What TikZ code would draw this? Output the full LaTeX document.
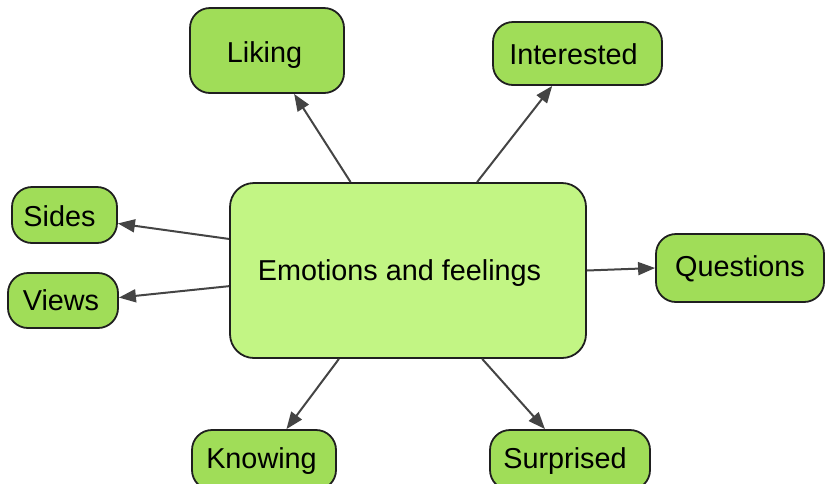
\documentclass[tikz,border=0pt]{standalone}
\usepackage{fontspec}
\setmainfont{Liberation Sans}
\usetikzlibrary{arrows.meta}
\definecolor{leaf}{RGB}{160,221,88}
\definecolor{hub}{RGB}{194,245,132}
\definecolor{edgec}{RGB}{68,68,68}
\begin{document}
\begin{tikzpicture}[x=1pt,y=-1pt,
  box/.style={draw=black!88, line width=1.8pt, fill=leaf, rounded corners=20pt,
    inner sep=0pt},
  lbl/.style={inner sep=0pt, font=\fontsize{28.8}{34}\selectfont, text=black},
  link/.style={draw=edgec, line width=2pt, -{Triangle[length=17pt,width=13pt]}}]
\useasboundingbox (0,0) rectangle (826,483);
\node[box, fill=hub, minimum width=356pt, minimum height=175pt, rounded corners=24pt,
  label={[lbl,xshift=-8.5pt,yshift=-3pt]center:Emotions and feelings}] (c) at (408,270.5) {};
\node[box, minimum width=154pt, minimum height=85pt,
  label={[lbl,xshift=-2.5pt,yshift=-5pt]center:Liking}] (liking) at (267,50.5) {};
\node[box, minimum width=169pt, minimum height=63pt,
  label={[lbl,xshift=-4pt,yshift=-1pt]center:Interested}] (interested) at (577.5,53.5) {};
\node[box, minimum width=105pt, minimum height=56pt,
  label={[lbl,xshift=-5pt,yshift=-1pt]center:Sides}] (sides) at (64.5,215) {};
\node[box, minimum width=110pt, minimum height=55pt,
  label={[lbl,xshift=-2pt]center:Views}] (views) at (63,300.5) {};
\node[box, minimum width=168pt, minimum height=68pt,
  label={[lbl,yshift=-1pt]center:Questions}] (questions) at (740,268) {};
\node[box, minimum width=144pt, minimum height=60pt,
  label={[lbl,xshift=-2.5pt,yshift=-1.5pt]center:Knowing}] (knowing) at (264,460) {};
\node[box, minimum width=160pt, minimum height=60pt,
  label={[lbl,xshift=-5pt,yshift=-1.5pt]center:Surprised}] (surprised) at (570,460) {};
\draw[link] (c.123.5) -- (liking.302.1);
\draw[link] (c.52.1) -- (interested.232.1);
\draw[link] (c.170.95) -- (sides.-9);
\draw[link] (c.185.27) -- (views.3.6);
\draw[link] (c.0.3) -- (questions.180);
\draw[link] (c.232.9) -- (knowing.54.1);
\draw[link] (c.310.7) -- (surprised.129.6);
\end{tikzpicture}
\end{document}
